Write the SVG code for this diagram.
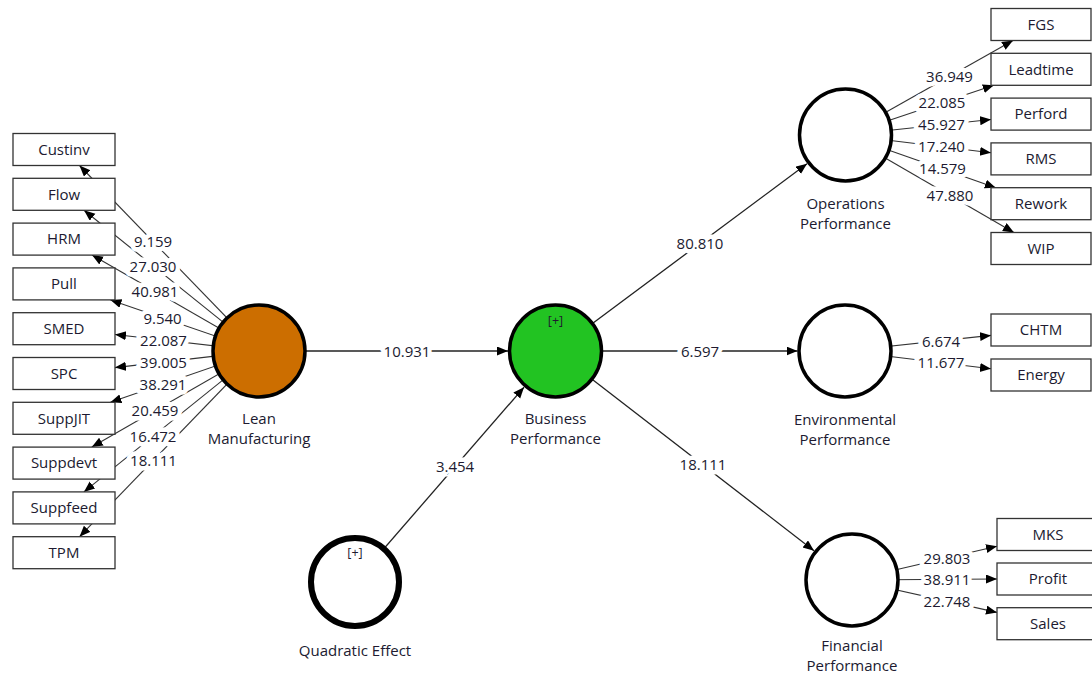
<svg xmlns="http://www.w3.org/2000/svg" width="1092" height="677" viewBox="0 0 1092 677">
<defs>
<marker id="ah" markerUnits="userSpaceOnUse" markerWidth="12" markerHeight="10" refX="11" refY="4.5" orient="auto">
<path d="M0,0 L11,4.5 L0,9 z" fill="#000"/>
</marker>
<style>
.c{stroke:#333;stroke-width:1.1;fill:none;marker-end:url(#ah)}
.p{stroke:#222;stroke-width:1.3;fill:none;marker-end:url(#ah)}
.b{fill:#fff;stroke:#333;stroke-width:1.3}
.t{font-family:"Open Sans","Noto Sans",sans-serif;font-size:15px;fill:#201a30;text-anchor:middle}
.w{font-family:"Open Sans","Noto Sans",sans-serif;font-size:15px;fill:#201a30;text-anchor:middle;stroke:#fff;stroke-width:9;paint-order:stroke;stroke-linejoin:round}
.n{stroke:#000;stroke-width:3.5}
.s{font-family:"Open Sans","Noto Sans",sans-serif;font-size:12.5px;fill:#201a30;text-anchor:middle}
</style>
</defs>
<rect width="1092" height="677" fill="#fff"/>
<g id="connectors">
<line class="c" x1="259" y1="351" x2="79.5" y2="165.5"/>
<line class="c" x1="259" y1="351" x2="84" y2="210.3"/>
<line class="c" x1="259" y1="351" x2="92" y2="255.1"/>
<line class="c" x1="259" y1="351" x2="110.5" y2="299.9"/>
<line class="c" x1="259" y1="351" x2="115" y2="334.5"/>
<line class="c" x1="259" y1="351" x2="115" y2="367.6"/>
<line class="c" x1="259" y1="351" x2="110.4" y2="402.3"/>
<line class="c" x1="259" y1="351" x2="91.8" y2="447.1"/>
<line class="c" x1="259" y1="351" x2="83.9" y2="491.9"/>
<line class="c" x1="259" y1="351" x2="79.5" y2="536.7"/>
<line class="c" x1="845.5" y1="135" x2="1013" y2="40.5"/>
<line class="c" x1="845.5" y1="135" x2="993.8" y2="85.3"/>
<line class="c" x1="845.5" y1="135" x2="991" y2="119.5"/>
<line class="c" x1="845.5" y1="135" x2="991" y2="152.7"/>
<line class="c" x1="845.5" y1="135" x2="995.8" y2="187.7"/>
<line class="c" x1="845.5" y1="135" x2="1013.9" y2="232.5"/>
<line class="c" x1="845" y1="351" x2="991" y2="335.4"/>
<line class="c" x1="845" y1="351" x2="991" y2="368.8"/>
<line class="c" x1="852" y1="580" x2="997" y2="546.2"/>
<line class="c" x1="852" y1="580" x2="997" y2="579"/>
<line class="c" x1="852" y1="580" x2="997" y2="612.4"/>
<line class="p" x1="259" y1="351" x2="508" y2="351"/>
<line class="p" x1="555.5" y1="351" x2="797.5" y2="351"/>
<line class="p" x1="355" y1="582" x2="524" y2="387.2"/>
<line class="p" x1="555.5" y1="351" x2="807" y2="163.7"/>
<line class="p" x1="555.5" y1="351" x2="814" y2="550.7"/>
</g>
<g id="indicators-left">
<g id="Custinv"><rect class="b" x="13" y="133.5" width="102" height="32"/><text class="t" x="64" y="154.8">Custinv</text></g>
<g id="Flow"><rect class="b" x="13" y="178.3" width="102" height="32"/><text class="t" x="64" y="199.6">Flow</text></g>
<g id="HRM"><rect class="b" x="13" y="223.1" width="102" height="32"/><text class="t" x="64" y="244.4">HRM</text></g>
<g id="Pull"><rect class="b" x="13" y="267.9" width="102" height="32"/><text class="t" x="64" y="289.2">Pull</text></g>
<g id="SMED"><rect class="b" x="13" y="312.7" width="102" height="32"/><text class="t" x="64" y="334">SMED</text></g>
<g id="SPC"><rect class="b" x="13" y="357.5" width="102" height="32"/><text class="t" x="64" y="378.8">SPC</text></g>
<g id="SuppJIT"><rect class="b" x="13" y="402.3" width="102" height="32"/><text class="t" x="64" y="423.6">SuppJIT</text></g>
<g id="Suppdevt"><rect class="b" x="13" y="447.1" width="102" height="32"/><text class="t" x="64" y="468.4">Suppdevt</text></g>
<g id="Suppfeed"><rect class="b" x="13" y="491.9" width="102" height="32"/><text class="t" x="64" y="513.2">Suppfeed</text></g>
<g id="TPM"><rect class="b" x="13" y="536.7" width="102" height="32"/><text class="t" x="64" y="558">TPM</text></g>
</g>
<g id="indicators-right">
<g id="FGS"><rect class="b" x="991" y="8.5" width="100" height="32"/><text class="t" x="1041" y="29.8">FGS</text></g>
<g id="Leadtime"><rect class="b" x="991" y="53.3" width="100" height="32"/><text class="t" x="1041" y="74.6">Leadtime</text></g>
<g id="Perford"><rect class="b" x="991" y="98.1" width="100" height="32"/><text class="t" x="1041" y="119.4">Perford</text></g>
<g id="RMS"><rect class="b" x="991" y="142.9" width="100" height="32"/><text class="t" x="1041" y="164.2">RMS</text></g>
<g id="Rework"><rect class="b" x="991" y="187.7" width="100" height="32"/><text class="t" x="1041" y="209">Rework</text></g>
<g id="WIP"><rect class="b" x="991" y="232.5" width="100" height="32"/><text class="t" x="1041" y="253.8">WIP</text></g>
<g id="CHTM"><rect class="b" x="991" y="314" width="100" height="32"/><text class="t" x="1041" y="335.3">CHTM</text></g>
<g id="Energy"><rect class="b" x="991" y="359" width="100" height="32"/><text class="t" x="1041" y="380.3">Energy</text></g>
<g id="MKS"><rect class="b" x="997" y="518.5" width="100" height="32"/><text class="t" x="1048" y="539.8">MKS</text></g>
<g id="Profit"><rect class="b" x="997" y="563" width="100" height="32"/><text class="t" x="1048" y="584.3">Profit</text></g>
<g id="Sales"><rect class="b" x="997" y="607.7" width="100" height="32"/><text class="t" x="1048" y="629">Sales</text></g>
</g>
<g id="lean-manufacturing"><circle class="n" cx="259" cy="351" r="46" fill="#CC6E00"/><text class="t" x="259" y="423.5">Lean</text><text class="t" x="259" y="443.5">Manufacturing</text></g>
<g id="business-performance"><circle class="n" cx="555.5" cy="351" r="46" fill="#22C322"/><text class="s" x="555.5" y="325">[+]</text><text class="t" x="555.5" y="424">Business</text><text class="t" x="555.5" y="443.5">Performance</text></g>
<g id="quadratic-effect"><circle cx="355" cy="582" r="44" fill="#fff" stroke="#000" stroke-width="6"/><text class="s" x="355" y="557">[+]</text><text class="t" x="355" y="655.5">Quadratic Effect</text></g>
<g id="operations-performance"><circle class="n" cx="845.5" cy="135" r="46" fill="#fff"/><text class="t" x="845.5" y="209">Operations</text><text class="t" x="845.5" y="228.5">Performance</text></g>
<g id="environmental-performance"><circle class="n" cx="845" cy="351" r="46" fill="#fff"/><text class="t" x="845" y="425">Environmental</text><text class="t" x="845" y="444.5">Performance</text></g>
<g id="financial-performance"><circle class="n" cx="852" cy="580" r="46" fill="#fff"/><text class="t" x="852" y="651">Financial</text><text class="t" x="852" y="670.5">Performance</text></g>
<g id="labels">
<text class="w" x="153" y="247">9.159</text>
<text class="w" x="153" y="272">27.030</text>
<text class="w" x="155" y="297">40.981</text>
<text class="w" x="162.5" y="323.5">9.540</text>
<text class="w" x="163.5" y="345.5">22.087</text>
<text class="w" x="163.5" y="367.5">39.005</text>
<text class="w" x="163" y="389.5">38.291</text>
<text class="w" x="155" y="415.5">20.459</text>
<text class="w" x="153" y="441.5">16.472</text>
<text class="w" x="153.5" y="465.5">18.111</text>
<text class="w" x="407" y="356.5">10.931</text>
<text class="w" x="700" y="356.5">6.597</text>
<text class="w" x="455" y="472">3.454</text>
<text class="w" x="700" y="248.5">80.810</text>
<text class="w" x="703" y="470">18.111</text>
<text class="w" x="949.5" y="82">36.949</text>
<text class="w" x="942" y="108">22.085</text>
<text class="w" x="941.5" y="130">45.927</text>
<text class="w" x="941.5" y="152">17.240</text>
<text class="w" x="942.5" y="174">14.579</text>
<text class="w" x="950" y="201">47.880</text>
<text class="w" x="941" y="346.5">6.674</text>
<text class="w" x="941" y="368">11.677</text>
<text class="w" x="947" y="563.5">29.803</text>
<text class="w" x="947" y="584.5">38.911</text>
<text class="w" x="947" y="606.5">22.748</text>
</g>
</svg>
